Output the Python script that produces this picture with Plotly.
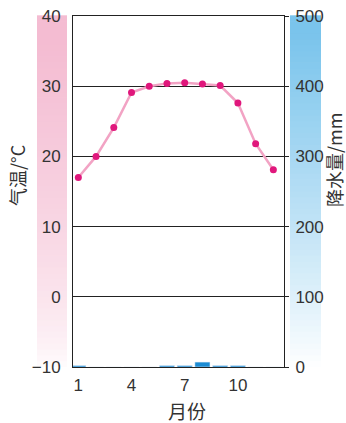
import plotly.graph_objects as go

months = list(range(1, 13))
temperature = [17.0, 20.0, 24.1, 29.1, 30.0, 30.4, 30.5, 30.3, 30.1, 27.6, 21.8, 18.1]
precipitation = [2, 0, 0, 0, 0, 2, 2, 7, 2, 2, 0, 0]

temp_ticks = [-10, 0, 10, 20, 30, 40]
prec_ticks = [0, 100, 200, 300, 400, 500]
month_ticks = [1, 4, 7, 10]

W, H = 346, 423
L, R, T, B = 73, W - 284, 16, H - 367
pw, ph = W - L - R, H - T - B

tick_font = dict(family="Liberation Sans Narrow, Liberation Sans, Arial", size=17, color="#333333")
cjk = "Noto Sans CJK SC"


def px_x(x):
    # pixel -> paper coordinate
    return (x - L) / pw


def px_y(y):
    return (H - B - y) / ph


def mix(c1, c2, t):
    return "rgb(%d,%d,%d)" % tuple(round(a + (b - a) * t) for a, b in zip(c1, c2))


# gradient strips behind the two axes
shapes = []
n = 60
for i in range(n):
    y0 = i / n
    y1 = (i + 1) / n
    t = (i + 0.5) / n
    pink = mix((255, 255, 255), (244, 188, 210), min(1, t ** 0.6 * 1.05))
    blue = mix((255, 255, 255), (122, 196, 236), min(1, t ** 0.9 * 1.05))
    shapes.append(dict(type="rect", xref="paper", yref="paper", x0=px_x(37), x1=px_x(67),
                       y0=y0, y1=y1 + 0.002, fillcolor=pink, line_width=0, layer="below"))
    shapes.append(dict(type="rect", xref="paper", yref="paper", x0=px_x(290), x1=px_x(321),
                       y0=y0, y1=y1 + 0.002, fillcolor=blue, line_width=0, layer="below"))

fig = go.Figure()
fig.add_trace(go.Bar(x=months, y=precipitation, yaxis="y2", marker_color="#1b8bd3",
                     width=0.85, showlegend=False))
fig.add_trace(go.Scatter(x=months, y=temperature, mode="lines+markers",
                         line=dict(color="#f2a3c4", width=2.5),
                         marker=dict(color="#e0177c", size=7), showlegend=False))

title_font = dict(family=cjk, size=18, color="#333333")

fig.update_layout(
    width=W, height=H,
    margin=dict(l=L, r=R, t=T, b=B, autoexpand=False),
    paper_bgcolor="white", plot_bgcolor="white",
    shapes=shapes,
    xaxis=dict(range=[0.7, 12.6], tickvals=month_ticks, showgrid=False, zeroline=False,
               showline=True, linecolor="#222222", linewidth=1, mirror=True,
               ticks="", tickfont=tick_font, ticklabelstandoff=3, automargin=False),
    yaxis=dict(range=[-10, 40], tickvals=temp_ticks, showgrid=True, gridcolor="#222222",
               gridwidth=1, zeroline=False, showline=True, linecolor="#222222", linewidth=1,
               mirror=True, ticks="", tickfont=tick_font, ticklabelstandoff=8,
               ticklabeloverflow="allow", automargin=False),
    yaxis2=dict(range=[0, 500], tickvals=prec_ticks, overlaying="y", side="right",
                showgrid=False, zeroline=False, showline=False, ticks="outside",
                ticklen=4, tickcolor="#222222", tickfont=tick_font, ticklabelstandoff=3,
                ticklabeloverflow="allow", automargin=False),
    annotations=[
        dict(text="气温/°C", xref="paper", yref="paper", x=px_x(17), y=px_y(175),
             xanchor="center", yanchor="middle", textangle=-90, showarrow=False,
             font=title_font),
        dict(text="降水量/mm", xref="paper", yref="paper", x=px_x(334), y=px_y(160),
             xanchor="center", yanchor="middle", textangle=-90, showarrow=False,
             font=title_font),
        dict(text="月份", xref="paper", yref="paper", x=px_x(187), y=px_y(410),
             xanchor="center", yanchor="middle", showarrow=False,
             font=dict(family=cjk, size=19, color="#333333")),
    ],
)

# drop the page's default 8px body margin so the figure sits at the window corner
fig.write_html("out.html", config={"displayModeBar": False},
               post_script="document.body.style.margin='0';")
